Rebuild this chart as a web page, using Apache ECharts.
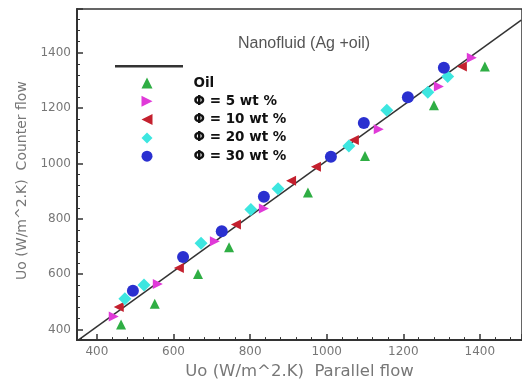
<!DOCTYPE html>
<html><head><meta charset="utf-8">
<script src="https://cdn.jsdelivr.net/npm/echarts@6/dist/echarts.min.js"></script>
<style>html,body{margin:0;padding:0;background:#fff}#c{width:522px;height:385px}</style>
</head><body><div id="c"></div>
<script>
// Data: [Uo parallel flow, Uo counter flow]
const names = ['Oil', 'Φ = 5 wt %', 'Φ = 10 wt %', 'Φ = 20 wt %', 'Φ = 30 wt %'];
const oil  = [[463,418],[551,493],[664,601],[745,697],[951,895],[1100,1027],[1280,1210],[1413,1350]];
const wt5  = [[444,447],[559,565],[708,719],[836,837],[1136,1124],[1293,1278],[1379,1382]];
const wt10 = [[457,482],[614,622],[763,780],[907,938],[972,988],[1071,1085],[1353,1350]];
const wt20 = [[473,511],[523,561],[672,712],[802,834],[873,909],[1058,1063],[1157,1192],[1264,1257],[1316,1314]];
const wt30 = [[494,540],[625,662],[726,755],[836,880],[1011,1024],[1097,1146],[1212,1239],[1306,1346]];
const refLine = [[353,364],[1508,1518]];
const xTickLabels = [400,600,800,1000,1200,1400];
const yTickLabels = [400,600,800,1000,1200,1400];

const chart = echarts.init(document.getElementById('c'));
const font = 'Liberation Sans, Arial, sans-serif';
const wide = 'DejaVu Sans, sans-serif';
const rightTri = 'path://M0,0 L10,5 L0,10 Z';
const leftTri = 'path://M10,0 L0,5 L10,10 Z';
function sc(name, data, color, symbol, size, rot) {
  return {name, type: 'scatter', data, symbol, symbolSize: size, symbolRotate: rot || 0,
    itemStyle: {color, opacity: 1}, z: 3};
}
chart.setOption({
  animation: false,
  backgroundColor: '#fff',
  title: {text: 'Nanofluid (Ag +oil)', left: 233, top: 31,
    textStyle: {fontFamily: font, fontSize: 16, fontWeight: 'normal', color: '#555'}},
  legend: [
    {orient: 'vertical', left: 115, top: 65, padding: 0, itemWidth: 68, itemHeight: 2.5,
      data: [{name: ' ', icon: 'rect'}], textStyle: {fontSize: 1}},
    {orient: 'vertical', left: 141.5, top: 76, padding: 0, itemWidth: 11, itemHeight: 11, itemGap: 4.3,
      formatter: '{t|{name}}',
      textStyle: {rich: {t: {fontFamily: wide, fontSize: 13.5, fontWeight: 'bold', color: '#111', padding: [0, 0, 0, 36]}}},
      data: [{name: names[0], icon: 'triangle'}, {name: names[1], icon: rightTri},
             {name: names[2], icon: leftTri}, {name: names[3], icon: 'diamond'}, {name: names[4], icon: 'circle'}]}
  ],
  grid: {left: 77, top: 9, right: 0, bottom: 43, show: true, borderColor: '#333', borderWidth: 1.5},
  xAxis: {type: 'value', min: 348, max: 1510, splitNumber: 6,
    name: 'Uo (W/m^2.K)  Parallel flow', nameLocation: 'middle', nameGap: 17,
    nameTextStyle: {fontFamily: wide, fontSize: 16.5, color: '#777'},
    axisLine: {lineStyle: {color: '#333', width: 2}},
    axisTick: {inside: true, length: 6, lineStyle: {color: '#333', width: 1.5}},
    minorTick: {show: true, splitNumber: 5, length: 3, lineStyle: {color: '#333'}},
    splitLine: {show: false},
    axisLabel: {fontFamily: wide, fontSize: 12, color: '#777', margin: 6, showMinLabel: false, showMaxLabel: false,
      formatter: v => xTickLabels.includes(v) ? String(v) : ''}},
  yAxis: {type: 'value', min: 362, max: 1558, splitNumber: 6,
    name: 'Uo (W/m^2.K)  Counter flow', nameLocation: 'middle', nameGap: 46,
    nameTextStyle: {fontFamily: wide, fontSize: 14, color: '#777', padding: [0, 12, 0, 0]},
    axisLine: {lineStyle: {color: '#333', width: 2}},
    axisTick: {inside: true, length: 6, lineStyle: {color: '#333', width: 1.5}},
    minorTick: {show: true, splitNumber: 5, length: 3, lineStyle: {color: '#333'}},
    splitLine: {show: false},
    axisLabel: {fontFamily: wide, fontSize: 12, color: '#777', margin: 6, showMinLabel: false, showMaxLabel: false,
      formatter: v => yTickLabels.includes(v) ? String(v) : ''}},
  series: [
    {name: ' ', type: 'line', data: refLine, symbol: 'none', lineStyle: {color: '#333', width: 1.5}, itemStyle: {color: '#333'}, z: 2},
    sc(names[0], oil, '#2fae44', 'triangle', 10, 0),
    sc(names[1], wt5, '#e03ad8', 'triangle', 10, -90),
    sc(names[2], wt10, '#c4202e', 'triangle', 10, 90),
    sc(names[3], wt20, '#3de6e0', 'diamond', 13, 0),
    sc(names[4], wt30, '#2a30d0', 'circle', 12, 0)
  ]
});
</script></body></html>
